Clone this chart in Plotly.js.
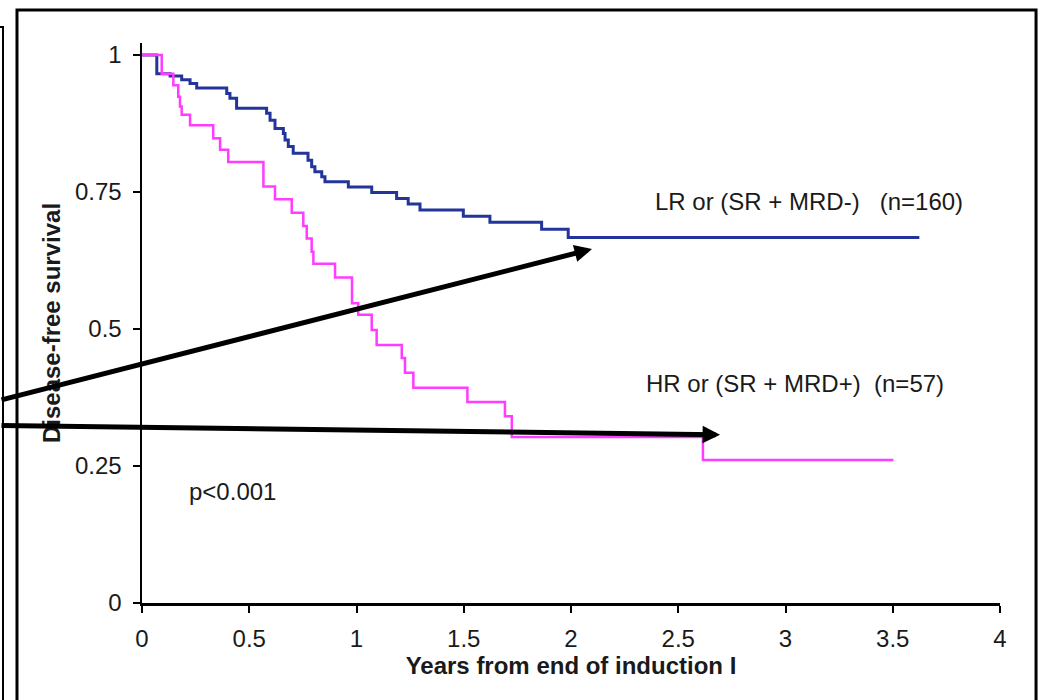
<!DOCTYPE html>
<html>
<head>
<meta charset="utf-8">
<script src="https://cdn.plot.ly/plotly-3.0.1.min.js"></script>
<style>
html,body{margin:0;padding:0;background:#fff;}
#chart{width:1040px;height:700px;}
</style>
</head>
<body>
<div id="chart"></div>
<script>
// Kaplan-Meier step data (years, survival)
var lrTimes = [0, 0.069, 0.131, 0.185, 0.224, 0.255, 0.395, 0.410, 0.441, 0.581, 0.597, 0.620, 0.659, 0.667, 0.682, 0.705, 0.774, 0.791, 0.806, 0.838, 0.853, 0.962, 1.071, 1.187, 1.241, 1.296, 1.498, 1.622, 1.863, 1.987, 3.624];
var lrSurv  = [1, 0.966, 0.962, 0.955, 0.948, 0.940, 0.930, 0.921, 0.903, 0.894, 0.881, 0.866, 0.857, 0.845, 0.833, 0.821, 0.808, 0.796, 0.787, 0.778, 0.769, 0.759, 0.749, 0.738, 0.728, 0.717, 0.706, 0.695, 0.682, 0.667, 0.667];

var hrTimes = [0, 0.092, 0.146, 0.169, 0.177, 0.185, 0.224, 0.332, 0.364, 0.402, 0.566, 0.620, 0.698, 0.752, 0.768, 0.791, 0.799, 0.900, 0.979, 1.008, 1.071, 1.094, 1.211, 1.226, 1.265, 1.517, 1.692, 1.724, 2.615, 3.503];
var hrSurv  = [1, 0.966, 0.945, 0.924, 0.906, 0.891, 0.872, 0.848, 0.827, 0.805, 0.760, 0.737, 0.712, 0.688, 0.665, 0.641, 0.619, 0.594, 0.547, 0.526, 0.498, 0.471, 0.447, 0.420, 0.393, 0.367, 0.341, 0.303, 0.261, 0.261];

var xTickVals = [0, 0.5, 1, 1.5, 2, 2.5, 3, 3.5, 4];
var xTickText = ["0", "0.5", "1", "1.5", "2", "2.5", "3", "3.5", "4"];
var yTickVals = [0, 0.25, 0.5, 0.75, 1];
var yTickText = ["0", "0.25", "0.5", "0.75", "1"];

var labelLR = "LR or (SR + MRD-)\u00A0\u00A0\u00A0(n=160)";
var labelHR = "HR or (SR + MRD+)\u00A0\u00A0(n=57)";
var labelP = "p<0.001";
var xTitle = "Years from end of induction I";
var yTitle = "Disease-free survival";

// label anchor positions (data coords)
var labelX = [2.380, 2.338, 0.208];
var labelY = [0.732, 0.400, 0.2026];

// arrows: tail (x,y) -> head (x,y), data coords
var arrowTailX = [-0.662, -0.662];
var arrowTailY = [0.370, 0.324];
var arrowHeadX = [2.098, 2.695];
var arrowHeadY = [0.646, 0.307];

var FONT = "Liberation Sans, Arial, sans-serif";
var TXT = "#1a1a1a";
var FS = 24;

var traces = [
  {x: lrTimes, y: lrSurv, type: "scatter", mode: "lines", line: {shape: "hv", color: "#23349a", width: 3}, hoverinfo: "skip", cliponaxis: false},
  {x: hrTimes, y: hrSurv, type: "scatter", mode: "lines", line: {shape: "hv", color: "#ff3cff", width: 2.5}, hoverinfo: "skip", cliponaxis: false}
];

var annotations = [];
var texts = [labelLR, labelHR, labelP];
for (var i = 0; i < texts.length; i++) {
  annotations.push({x: labelX[i], y: labelY[i], xref: "x", yref: "y", text: texts[i], showarrow: false,
    xanchor: "left", yanchor: "middle", font: {family: FONT, size: FS, color: TXT}});
}
for (var j = 0; j < arrowHeadX.length; j++) {
  annotations.push({x: arrowHeadX[j], y: arrowHeadY[j], xref: "x", yref: "y",
    ax: arrowTailX[j], ay: arrowTailY[j], axref: "x", ayref: "y", text: "", showarrow: true,
    arrowhead: 2, arrowsize: 0.7, arrowwidth: 5, arrowcolor: "#000"});
}

// frame shapes (paper coords relative to plot area)
var shapes = [
  {type: "rect", xref: "paper", yref: "paper", x0: -0.1457, x1: 1.042, y0: -0.25, y1: 1.059, line: {color: "#000", width: 3}, fillcolor: "rgba(0,0,0,0)", layer: "below"},
  {type: "path", xref: "paper", yref: "paper", path: "M -0.18 1.0286 L -0.162 1.0286 L -0.162 -0.25", line: {color: "#000", width: 2}}
];

var axisCommon = {
  showgrid: false, zeroline: false, showline: true, linecolor: "#000", linewidth: 2.5,
  ticks: "outside", ticklen: 7, tickwidth: 2, tickcolor: "#000",
  tickfont: {family: FONT, size: FS, color: TXT}
};

var layout = {
  width: 1040, height: 700,
  margin: {l: 142, r: 40, t: 43, b: 97, pad: 0},
  paper_bgcolor: "#fff", plot_bgcolor: "#fff",
  showlegend: false,
  xaxis: Object.assign({}, axisCommon, {
    range: [0, 4], tickmode: "array", tickvals: xTickVals, ticktext: xTickText, ticklabelstandoff: 6,
    title: {text: xTitle, font: {family: FONT, size: FS, color: TXT, weight: "bold"}, standoff: 4}
  }),
  yaxis: Object.assign({}, axisCommon, {
    range: [0, 1.022], tickmode: "array", tickvals: yTickVals, ticktext: yTickText, ticklabelstandoff: 6,
    title: {text: yTitle, font: {family: FONT, size: FS, color: TXT, weight: "bold"}, standoff: 8}
  }),
  xaxis2: {overlaying: "x", anchor: "y", range: [0, 4], tickmode: "array", tickvals: xTickVals,
    showticklabels: false, ticks: "inside", ticklen: 7, tickwidth: 2, tickcolor: "#000",
    showgrid: false, zeroline: false, showline: false},
  yaxis2: {overlaying: "y", anchor: "x", range: [0, 1.022], tickmode: "array", tickvals: yTickVals,
    showticklabels: false, ticks: "inside", ticklen: 7, tickwidth: 2, tickcolor: "#000",
    showgrid: false, zeroline: false, showline: false},
  annotations: annotations,
  shapes: shapes
};

Plotly.newPlot("chart", traces, layout, {staticPlot: true, displayModeBar: false});
</script>
</body>
</html>
